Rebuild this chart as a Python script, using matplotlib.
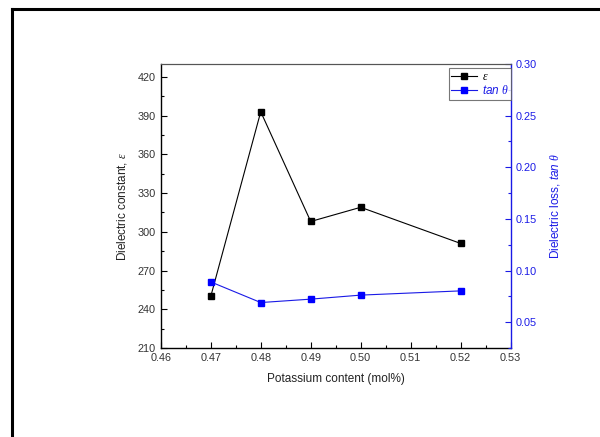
import matplotlib
matplotlib.use("Agg")
import matplotlib.pyplot as plt
from matplotlib.ticker import MultipleLocator
from matplotlib.lines import Line2D

plt.rcParams['font.family'] = ['Liberation Sans', 'DejaVu Sans']
plt.rcParams['mathtext.fontset'] = 'custom'
plt.rcParams['mathtext.rm'] = 'Liberation Sans'
plt.rcParams['mathtext.it'] = 'Liberation Serif:italic'
plt.rcParams['mathtext.sf'] = 'Liberation Sans:italic'

potassium = [0.47, 0.48, 0.49, 0.50, 0.52]
epsilon = [250, 393, 308, 319, 291]
tan_loss = [0.089, 0.069, 0.0723, 0.0762, 0.0803]

blue = '#1a1ae6'
fig = plt.figure(figsize=(6.0, 4.37), dpi=100)
ax = fig.add_axes([0.268, 0.2037, 0.583, 0.6498])
ax2 = ax.twinx()

ax.plot(potassium, epsilon, color='black', lw=0.8, marker='s', ms=4.5,
        mfc='black', mec='black')
ax2.plot(potassium, tan_loss, color=blue, lw=0.8, marker='s', ms=4.5,
         mfc='#0000ff', mec='#0000ff')

ax.set_xlim(0.46, 0.53)
ax.set_ylim(210, 430)
ax2.set_ylim(0.025, 0.30)

ax.xaxis.set_major_locator(MultipleLocator(0.01))
ax.xaxis.set_minor_locator(MultipleLocator(0.005))
ax.yaxis.set_major_locator(MultipleLocator(30))
ax.yaxis.set_minor_locator(MultipleLocator(15))
ax2.yaxis.set_major_locator(MultipleLocator(0.05))
ax2.yaxis.set_minor_locator(MultipleLocator(0.025))
ax.xaxis.set_major_formatter(matplotlib.ticker.FormatStrFormatter('%.2f'))
ax2.yaxis.set_major_formatter(matplotlib.ticker.FormatStrFormatter('%.2f'))

ax.tick_params(axis='both', which='major', direction='in', length=4, width=0.8,
               labelsize=7.8, colors='#333333', top=False, right=False)
ax.tick_params(axis='both', which='minor', direction='in', length=2, width=0.8,
               top=False, right=False)
ax.tick_params(axis='y', which='both', color='black')
ax.tick_params(axis='x', which='both', color='black')
ax2.tick_params(axis='y', which='major', direction='in', length=4, width=0.8,
                labelsize=7.8, colors=blue)
ax2.tick_params(axis='y', which='minor', direction='in', length=2, width=0.8,
                colors=blue)

for sp in ['left', 'bottom']:
    ax.spines[sp].set_linewidth(1.0)
ax2.spines['right'].set_color(blue)
ax2.spines['right'].set_linewidth(1.0)
ax2.spines['left'].set_visible(False)
ax2.spines['bottom'].set_visible(False)
ax2.spines['top'].set_color('#555555')
ax.spines['top'].set_color('#555555')
ax.spines['right'].set_visible(False)

ax.set_xlabel('Potassium content (mol%)', fontsize=8.5, color='#222222', labelpad=7)
ax.set_ylabel(r'Dielectric constant, $\varepsilon$', fontsize=8.5,
              color='#222222', labelpad=6)
ax2.set_ylabel(r'Dielectric loss, $\mathsf{tan}\ \theta$', fontsize=8.5,
               color=blue, labelpad=8, rotation=90)

handles = [Line2D([], [], color='black', lw=0.8, marker='s', ms=4, mfc='black', mec='black'),
           Line2D([], [], color=blue, lw=0.8, marker='s', ms=4, mfc='#0000ff', mec='#0000ff')]
leg = ax2.legend(handles, [r'$\varepsilon$', r'$\mathsf{tan}\ \theta$'], loc='upper right',
                 bbox_to_anchor=(1.0, 0.985), fontsize=8.5, frameon=True, fancybox=False,
                 edgecolor='#555555', handlelength=2.2, borderpad=0.2,
                 labelspacing=0.15, handletextpad=0.4, borderaxespad=0.0)
leg.get_frame().set_linewidth(0.8)
leg.get_texts()[1].set_color(blue)

# outer frame
fig.add_artist(Line2D([12/600, 12/600], [0, 1 - 9/437], transform=fig.transFigure,
                      color='black', lw=2.2))
fig.add_artist(Line2D([12/600, 1], [1 - 9/437, 1 - 9/437], transform=fig.transFigure,
                      color='black', lw=2.2))

fig.savefig('out.png', dpi=100)
